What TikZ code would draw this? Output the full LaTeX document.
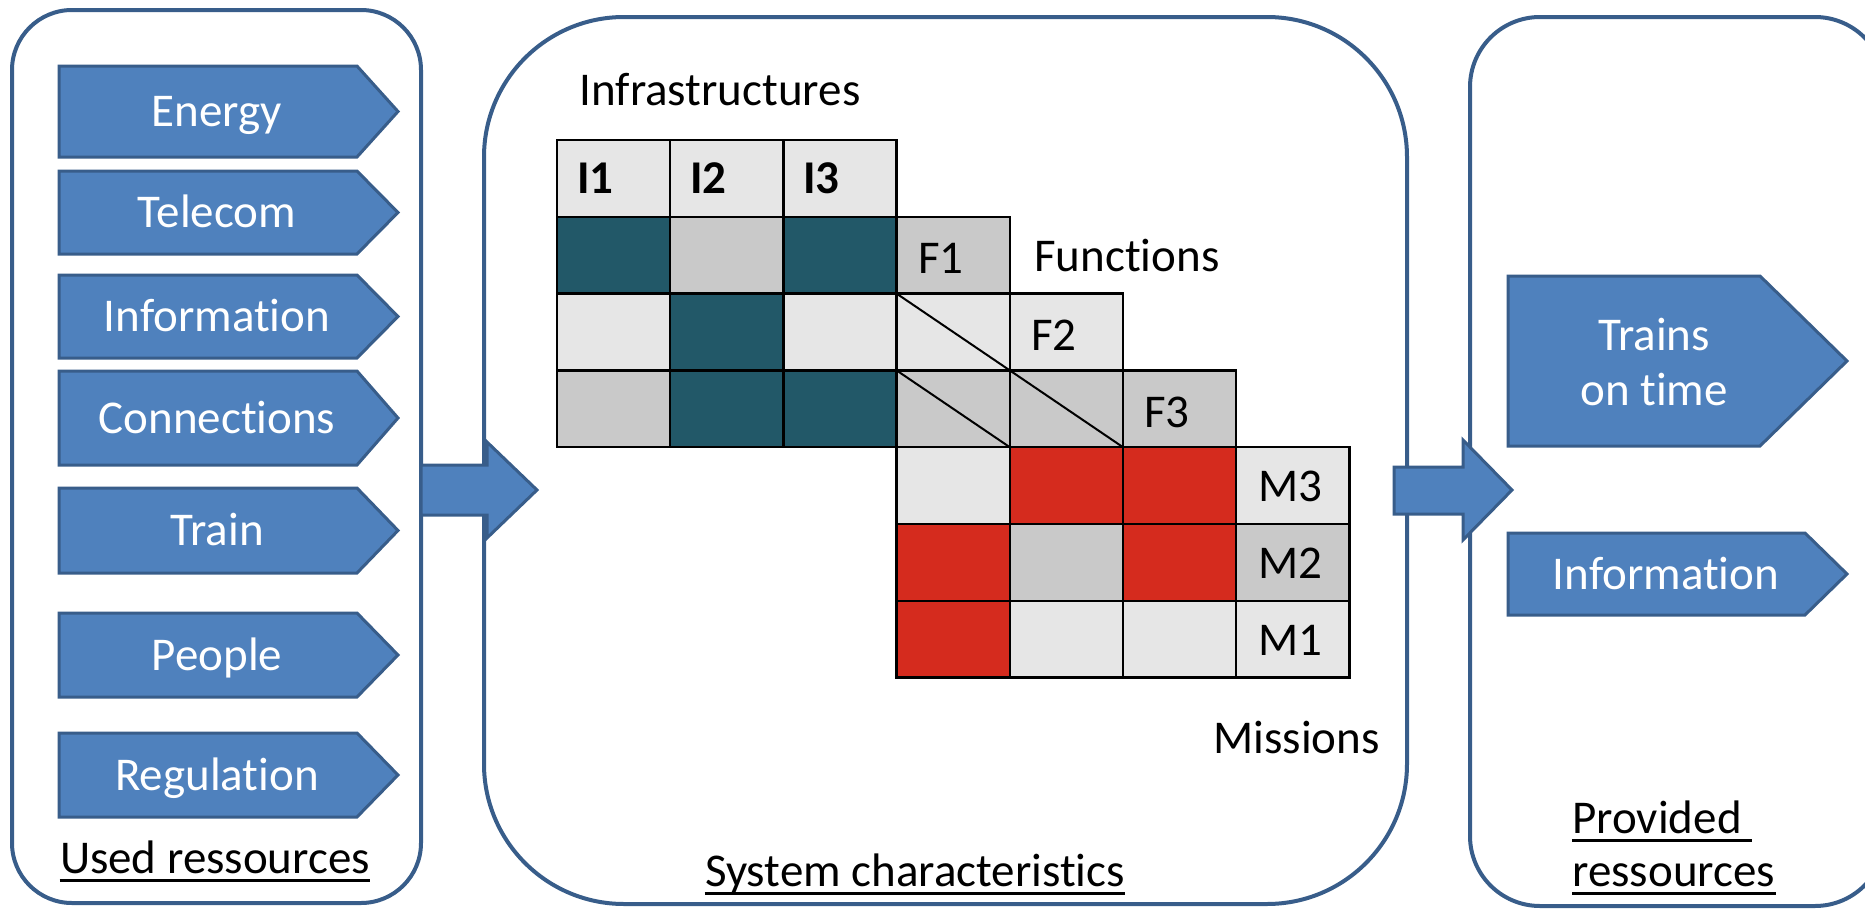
\documentclass[tikz,border=0pt]{standalone}
\usepackage{fontspec}
\setmainfont{Carlito}[Ligatures=NoCommon]
\definecolor{fillblue}{HTML}{4F81BD}
\definecolor{lineblue}{HTML}{385D8A}
\definecolor{cl}{HTML}{E6E6E6}
\definecolor{cg}{HTML}{C9C9C9}
\definecolor{ct}{RGB}{34,88,104}
\definecolor{cr}{RGB}{213,43,30}
\tikzset{
  panel/.style={draw=lineblue, line width=2pt, fill=white},
  blockarrow/.style={draw=lineblue, line width=1.5pt, fill=fillblue, line join=miter},
  wtext/.style={text=white, inner sep=0pt},
  btext/.style={text=black, inner sep=0pt},
  gridcell/.style={draw=black, line width=1.2pt},
  uline/.style={draw=black, line width=1.5pt},
  every node/.style={font=\fontsize{23.5}{28}\selectfont}
}
\newcommand{\leftarr}[4]{%
  \path[blockarrow] (59,#2) -- (357,#2) -- (398,{(#2+#3)/2}) -- (357,#3) -- (59,#3) -- cycle;
  \node[wtext, anchor=base] (#1) at (217,{(#2+#3)/2+15}) {#4};}
\begin{document}
\begin{tikzpicture}[x=0.5pt,y=-0.5pt]
\useasboundingbox (0,0) rectangle (1865,910);
\clip (0,0) rectangle (1865,910);
% panels
\path[panel, rounded corners=30pt] (12,10) rectangle (421,903);
\path[panel, rounded corners=70pt] (484,17) rectangle (1407,904);
\path[panel, rounded corners=35pt] (1470,17) rectangle (1885,906);
% big arrows
\path[blockarrow] (421,465) -- (487,465) -- (487,442) -- (537,490) -- (487,538) -- (487,515) -- (421,515) -- cycle;
\path[blockarrow] (1394,467) -- (1463,467) -- (1463,440) -- (1512,490) -- (1463,540) -- (1463,514) -- (1394,514) -- cycle;
% left arrows
\leftarr{energy}{66}{157}{Energy}
\leftarr{telecom}{171}{254}{Telecom}
\leftarr{info}{275}{358}{Information}
\leftarr{conn}{371}{465}{Connections}
\leftarr{train}{488}{573}{Train}
\leftarr{people}{613}{697}{People}
\leftarr{regul}{733}{817}{Regulation}
% right arrows
\path[blockarrow] (1508,276) -- (1760,276) -- (1847,361) -- (1760,446) -- (1508,446) -- cycle;
\node[wtext, align=center] (trains) at (1654,362) {Trains\\on time};
\path[blockarrow] (1508,533) -- (1805,533) -- (1847,574) -- (1805,615) -- (1508,615) -- cycle;
\node[wtext, anchor=base] (rinfo) at (1666,589) {Information};
% grid
\foreach \c/\r/\col in {0/0/cl, 1/0/cl, 2/0/cl, 0/1/ct, 1/1/cg, 2/1/ct, 3/1/cg,
  0/2/cl, 1/2/ct, 2/2/cl, 3/2/cl, 4/2/cl, 0/3/cg, 1/3/ct, 2/3/ct, 3/3/cg, 4/3/cg, 5/3/cg,
  3/4/cl, 4/4/cr, 5/4/cr, 6/4/cl, 3/5/cr, 4/5/cg, 5/5/cr, 6/5/cg, 3/6/cr, 4/6/cl, 5/6/cl, 6/6/cl}
  \path[gridcell, fill=\col] ({557+113.2*\c},{140+76.8*\r}) rectangle ++(113.2,76.8);
\draw[line width=1pt] (896.6,293.6) -- (1009.8,370.4);
\draw[line width=1pt] (896.6,370.4) -- (1009.8,447.2);
\draw[line width=1pt] (1009.8,370.4) -- (1123,447.2);
% grid labels
\node[btext, anchor=west, font=\fontsize{23.5}{28}\selectfont\bfseries] (I1) at (577,178.4) {I1};
\node[btext, anchor=west, font=\fontsize{23.5}{28}\selectfont\bfseries] (I2) at (690,178.4) {I2};
\node[btext, anchor=west, font=\fontsize{23.5}{28}\selectfont\bfseries] (I3) at (803,178.4) {I3};
\node[btext, anchor=west] (F1) at (918,258) {F1};
\node[btext, anchor=west] (F2) at (1031,335) {F2};
\node[btext, anchor=west] (F3) at (1144,412) {F3};
\node[btext, anchor=west] (M3) at (1258,486) {M3};
\node[btext, anchor=west] (M2) at (1258,563) {M2};
\node[btext, anchor=west] (M1) at (1258,640) {M1};
\node[btext, anchor=base west] (infra) at (579,105) {Infrastructures};
\node[btext, anchor=base west] (func) at (1034,271) {Functions};
\node[btext, anchor=base west] (miss) at (1213,753) {Missions};
% panel titles
\node[btext, anchor=base] (used) at (215,873) {Used ressources};
\draw[uline] ([yshift=-3.5pt]used.base west) -- ([yshift=-3.5pt]used.base east);
\node[btext, anchor=base] (sys) at (915,886) {System characteristics};
\draw[uline] ([yshift=-3.5pt]sys.base west) -- ([yshift=-3.5pt]sys.base east);
\node[btext, anchor=base west] (prov) at (1572,833) {Provided};
\draw[uline] ([yshift=-3.5pt]prov.base west) -- ([yshift=-3.5pt,xshift=5pt]prov.base east);
\node[btext, anchor=base west] (ress) at (1572,886) {ressources};
\draw[uline] ([yshift=-3.5pt]ress.base west) -- ([yshift=-3.5pt]ress.base east);
\end{tikzpicture}
\end{document}
